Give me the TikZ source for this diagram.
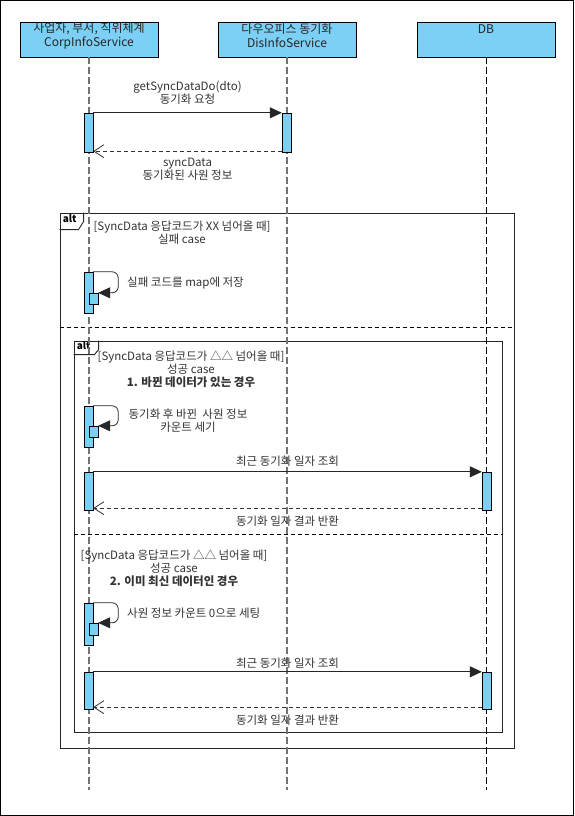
\documentclass[tikz,border=0pt]{standalone}
\usepackage{fontspec}
\setmainfont{Noto Sans CJK KR}
\usetikzlibrary{arrows.meta}
\definecolor{lifeblue}{RGB}{124,207,245}

\begin{document}
\begin{tikzpicture}[x=1pt, y=-1pt,
    lifebox/.style={draw=black, fill=lifeblue, minimum width=138pt, minimum height=35pt, inner sep=0pt},
    headtxt/.style={font=\fontsize{12}{14}\selectfont, align=center, inner sep=0pt, text=black!85},
    actbar/.style={draw=black, fill=lifeblue, minimum width=9pt, inner sep=0pt},
    lifeline/.style={draw=black!55, line width=1.1pt, dash pattern=on 7pt off 3pt},
    dbline/.style={draw=black, line width=0.6pt, dash pattern=on 7pt off 3pt},
    msg/.style={-{Triangle[length=12pt, width=11pt]}, line width=0.8pt, draw=black!85},
    ret/.style={-{Straight Barb[length=10pt, width=13pt]}, line width=0.8pt, draw=black!80, dash pattern=on 4pt off 3pt},
    lbl/.style={font=\fontsize{11.5}{13}\selectfont, align=center, inner sep=0pt, text=black!80},
    framebox/.style={draw=black!85, line width=0.9pt, inner sep=0pt},
    tagtxt/.style={font=\bfseries\fontsize{10}{12}\selectfont, inner sep=0pt},
    sepline/.style={draw=black, line width=0.6pt, dash pattern=on 4pt off 3pt}]
    \useasboundingbox (0,0) rectangle (574,816);
    \draw [black, line width=1pt] (0.5,0.5) rectangle (573.5,815.5);
    \coordinate (bottom) at (0,790);

    % frames
    \node [framebox, minimum width=454pt, minimum height=535pt] (altout) at (287,480.5) {};
    \draw [black!85, line width=0.9pt] (altout.north west) ++(24,0) -- ++(0,9) -- ++(-5,8) -- ++(-19,0);
    \node [tagtxt, anchor=north west] (altouttag) at ([shift={(3,2)}]altout.north west) {alt};
    \node [framebox, minimum width=428pt, minimum height=391pt] (altin) at (288,536.5) {};
    \draw [black!85, line width=0.9pt] (altin.north west) ++(25,0) -- ++(0,9) -- ++(-4,5) -- ++(-21,0);
    \node [tagtxt, anchor=north west] (altintag) at ([shift={(3,1)}]altin.north west) {alt};
    \coordinate (sep1) at (0,327);
    \coordinate (sep2) at (0,534);
    \draw [sepline] (altout.west |- sep1) -- (altout.east |- sep1);
    \draw [sepline] (altin.west |- sep2) -- (altin.east |- sep2);

    % heads and lifelines
    \node [lifebox] (corp) at (89,39.5) {};
    \node [lifebox] (dis) at (287,39.5) {};
    \node [lifebox] (db) at (486,39.5) {};
    \node [headtxt] (corptxt) at (89,35.5) {사업자, 부서, 직위체계\\CorpInfoService};
    \node [headtxt] (distxt) at (287,35.5) {다우오피스 동기화\\DisInfoService};
    \node [headtxt] (dbtxt) at (486,29.5) {DB};
    \draw [lifeline] (corp) -- (corp |- bottom);
    \draw [lifeline] (dis) -- (dis |- bottom);
    \draw [dbline] (db) -- (db |- bottom);

    % sync request
    \node [actbar, minimum height=39pt] (corpa1) at (88.5,132.5) {};
    \node [actbar, minimum height=39pt] (disa1) at (286.5,132.5) {};
    \draw [msg] (corpa1.north east) -- (disa1.north west)
        node [lbl, midway, above=8pt] {getSyncDataDo(dto)\\동기화 요청};
    \draw [ret] ([yshift=1pt]disa1.south west) -- ([yshift=1pt]corpa1.south east)
        node [lbl, midway, below=6pt] {syncData\\동기화된 사원 정보};

    % fail case
    \node [lbl, anchor=north] (guard1) at (182,221) {[SyncData 응답코드가 XX 넘어올 때]\\실패 case};
    \node [actbar, minimum height=41pt] (corps1) at (88.5,292.5) {};
    \node [actbar, minimum height=11pt] (corpt1) at (93.5,298.5) {};
    \draw [msg, rounded corners=6pt] (corps1.north east) -- ++(25,0) |- (corpt1.north east);
    \node [lbl, anchor=west] (self1) at (127,283) {실패 코드를 map에 저장};

    % success case 1
    \node [lbl, anchor=north] (guard2) at (191,351) {[SyncData 응답코드가 △△ 넘어올 때]\\성공 case\\\textbf{1. 바뀐 데이터가 있는 경우}};
    \node [actbar, minimum height=41pt] (corps2) at (88.5,426.5) {};
    \node [actbar, minimum height=11pt] (corpt2) at (93.5,431.5) {};
    \draw [msg, rounded corners=6pt] (corps2.north east) -- ++(25,0) |- (corpt2.north east);
    \node [lbl] (self2) at (188,421) {동기화 후 바뀐 \ 사원 정보\\카운트 세기};
    \node [actbar, minimum height=38pt] (corpa2) at (88.5,491) {};
    \node [actbar, minimum height=38pt] (dba2) at (486.5,491) {};
    \draw [msg] (corpa2.north east) -- (dba2.north west)
        node [lbl, midway, above=5pt] {최근 동기화 일자 조회};
    \draw [ret] ([yshift=2pt]dba2.south west) -- ([yshift=2pt]corpa2.south east)
        node [lbl, midway, below=7pt] {동기화 일자 결과 반환};

    % success case 2
    \node [lbl, anchor=north] (guard3) at (174,550) {[SyncData 응답코드가 △△ 넘어올 때]\\성공 case\\\textbf{2. 이미 최신 데이터인 경우}};
    \node [actbar, minimum height=42pt] (corps3) at (88.5,624) {};
    \node [actbar, minimum height=12pt] (corpt3) at (93.5,629) {};
    \draw [msg, rounded corners=6pt] (corps3.north east) -- ++(25,0) |- (corpt3.north east);
    \node [lbl, anchor=west] (self3) at (127,613) {사원 정보 카운트 0으로 세팅};
    \node [actbar, minimum height=37pt] (corpa3) at (88.5,690.5) {};
    \node [actbar, minimum height=37pt] (dba3) at (486.5,690.5) {};
    \draw [msg] (corpa3.north east) -- (dba3.north west)
        node [lbl, midway, above=3pt] {최근 동기화 일자 조회};
    \draw [ret] ([yshift=2pt]dba3.south west) -- ([yshift=2pt]corpa3.south east)
        node [lbl, midway, below=7pt] {동기화 일자 결과 반환};
\end{tikzpicture}
\end{document}
